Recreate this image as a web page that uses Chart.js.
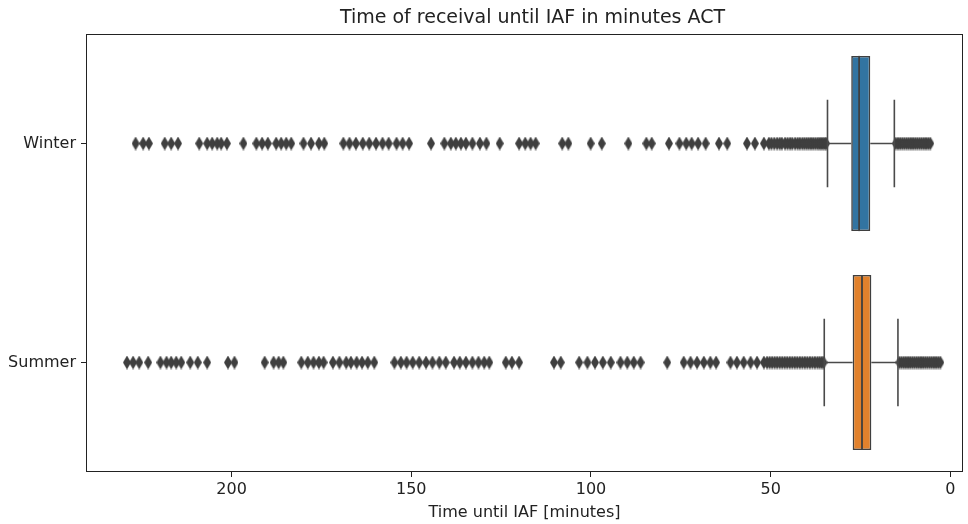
<!DOCTYPE html>
<html>
<head>
<meta charset="utf-8">
<script src="https://cdn.jsdelivr.net/npm/chart.js@4/dist/chart.umd.min.js"></script>
<style>
  body { margin: 0; background: #fff; }
  #wrap { width: 968px; height: 524px; }
</style>
</head>
<body>
<div id="wrap"><canvas id="boxChart" width="968" height="524"></canvas></div>
<script>
const seasons = ['Winter', 'Summer'];
const xTicks = [0, 50, 100, 150, 200];

// box statistics (minutes)
const boxLow = [22.3, 22.0];
const boxHigh = [27.6, 27.2];
const medians = [25.4, 24.6];
const whiskerLow = [15.6, 14.6];
const whiskerHigh = [34.2, 35.1];
const boxColors = ['#3274a1', '#e1812c'];

const winterFliers = [226.7, 224.6, 223, 218.6, 216.8, 214.9, 209, 206.8, 205.4, 204, 202.9, 201.3,
  196.7, 193.1, 191.5, 189.9, 187.6, 186.2, 184.8, 183.4, 180, 177.9, 175.7, 174.2,
  168.9, 167.2, 165.4, 163.5, 161.7, 159.8, 158, 156.3, 154.1, 152.4, 150.6, 144.5,
  140.8, 139, 137.6, 136.2, 134.8, 133, 130.9, 129.1, 125.4, 120, 118.3, 116.8, 115.4,
  108, 106.3, 100.1, 97, 89.6, 84.6, 83.1, 78.3, 75.4, 73.5, 72, 70.2, 68.1, 64.4, 62.1,
  56.6, 54.4, 51.9, 50.5, 49.8, 49, 48.2, 47.5, 46.9, 46, 45.3, 44.6, 44, 43.2, 42.5,
  41.9, 41.2, 40.6, 40, 39.4, 38.8, 38.2, 37.6, 37, 36.5, 36, 35.5, 35, 34.6,
  15.2, 14.6, 14, 13.4, 12.8, 12.2, 11.6, 11, 10.4, 9.8, 9.2, 8.6, 8, 7.4, 6.8, 6.2, 5.6];

const summerFliers = [229.1, 227.4, 225.7, 223.2, 219.8, 218.1, 216.8, 215.4, 214, 211.5, 209.4,
  206.8, 201, 199.2, 190.8, 188.3, 186.9, 185.6, 180.6, 178.8, 177.2, 175.7, 174.4, 171.8,
  170, 168.1, 166.8, 165.2, 163.7, 162.1, 160.3, 154.7, 152.9, 151.3, 149.6, 147.8, 145.9,
  144.1, 142.2, 140.4, 138.1, 136.5, 134.8, 133, 131.3, 129.7, 128.3, 123.7, 122, 120,
  110.3, 108.4, 103.3, 101, 98.9, 96.7, 94.5, 91.8, 89.9, 88.1, 86.2, 78.8, 74.2, 72.3,
  70.5, 68.6, 66.8, 65.2, 61.2, 59.4, 57.5, 55.6, 53.8, 51.9, 51, 50.3, 49.6, 48.9, 48.2,
  47.5, 46.8, 46.1, 45.4, 44.7, 44, 43.3, 42.6, 41.9, 41.2, 40.5, 39.8, 39.1, 38.4, 37.7,
  37, 36.4, 35.8, 35.3,
  14.2, 13.6, 13, 12.4, 11.8, 11.2, 10.6, 10, 9.4, 8.8, 8.2, 7.6, 7, 6.4, 5.8, 5.2, 4.6,
  4, 3.4, 2.8];

Chart.defaults.font.family = 'DejaVu Sans';
Chart.defaults.color = '#222';

// thin diamond marker like matplotlib 'd'
const diamond = document.createElement('canvas');
diamond.width = 8;
diamond.height = 14;
const dctx = diamond.getContext('2d');
dctx.fillStyle = '#3f3f3f';
dctx.beginPath();
dctx.moveTo(4, 0);
dctx.lineTo(8, 7);
dctx.lineTo(4, 14);
dctx.lineTo(0, 7);
dctx.closePath();
dctx.fill();

const boxParts = {
  id: 'boxParts',
  afterDatasetsDraw(chart) {
    const ctx = chart.ctx;
    const x = chart.scales.x;
    const y = chart.scales.y;
    const step = y.getPixelForValue(1) - y.getPixelForValue(0);
    ctx.save();
    seasons.forEach((s, i) => {
      const cy = y.getPixelForValue(i);
      const bh = step * 0.4;
      const ch = step * 0.2;
      ctx.strokeStyle = '#4a4a4a';
      ctx.lineWidth = 1.6;
      ctx.beginPath();
      ctx.moveTo(x.getPixelForValue(whiskerHigh[i]), cy);
      ctx.lineTo(x.getPixelForValue(boxHigh[i]), cy);
      ctx.moveTo(x.getPixelForValue(boxLow[i]), cy);
      ctx.lineTo(x.getPixelForValue(whiskerLow[i]), cy);
      ctx.moveTo(x.getPixelForValue(whiskerHigh[i]), cy - ch);
      ctx.lineTo(x.getPixelForValue(whiskerHigh[i]), cy + ch);
      ctx.moveTo(x.getPixelForValue(whiskerLow[i]), cy - ch);
      ctx.lineTo(x.getPixelForValue(whiskerLow[i]), cy + ch);
      ctx.stroke();
      ctx.strokeStyle = '#3f3f3f';
      ctx.lineWidth = 1.8;
      ctx.beginPath();
      ctx.moveTo(x.getPixelForValue(medians[i]), cy - bh);
      ctx.lineTo(x.getPixelForValue(medians[i]), cy + bh);
      ctx.stroke();
    });
    // frame
    const a = chart.chartArea;
    ctx.strokeStyle = '#222';
    ctx.lineWidth = 1;
    ctx.strokeRect(a.left + 0.5, a.top + 0.5, a.right - a.left - 1, a.bottom - a.top - 1);
    // title
    ctx.fillStyle = '#222';
    ctx.font = '19px "DejaVu Sans"';
    ctx.textAlign = 'center';
    ctx.textBaseline = 'middle';
    ctx.fillText('Time of receival until IAF in minutes ACT', (a.left + a.right) / 2 + 8, 18);
    ctx.restore();
  }
};

const boxCtx = document.getElementById('boxChart');

new Chart(boxCtx, {
  type: 'bar',
  data: {
    labels: seasons,
    datasets: [
      {
        type: 'scatter',
        data: winterFliers.map(v => ({ x: v, y: 'Winter' })),
        pointStyle: diamond,
        pointRadius: 4
      },
      {
        type: 'scatter',
        data: summerFliers.map(v => ({ x: v, y: 'Summer' })),
        pointStyle: diamond,
        pointRadius: 4
      },
      {
        type: 'bar',
        data: seasons.map((s, i) => [boxLow[i], boxHigh[i]]),
        backgroundColor: boxColors,
        borderColor: '#3f3f3f',
        borderWidth: 1.6,
        borderSkipped: false,
        categoryPercentage: 1,
        barPercentage: 0.8
      }
    ]
  },
  options: {
    indexAxis: 'y',
    responsive: false,
    animation: false,
    layout: { padding: { top: 34, right: 3, left: 0, bottom: 0 } },
    plugins: { legend: { display: false }, tooltip: { enabled: false } },
    scales: {
      x: {
        type: 'linear',
        reverse: true,
        min: -3.5,
        max: 240.5,
        afterBuildTicks(scale) { scale.ticks = xTicks.map(v => ({ value: v })); },
        afterFit(scale) { scale.height = 52; },
        grid: { drawOnChartArea: false, tickLength: 5, color: '#222' },
        border: { display: false },
        ticks: { font: { size: 16 }, padding: 3, color: '#222' },
        title: { display: true, text: 'Time until IAF [minutes]', font: { size: 16 }, padding: { top: 0, bottom: 2 }, color: '#222' }
      },
      y: {
        type: 'category',
        offset: true,
        afterFit(scale) { scale.width = 86; },
        grid: { drawOnChartArea: false, offset: false, tickLength: 5, color: '#222' },
        border: { display: false },
        ticks: { font: { size: 16 }, padding: 5, color: '#222' }
      }
    }
  },
  plugins: [boxParts]
});
</script>
</body>
</html>
